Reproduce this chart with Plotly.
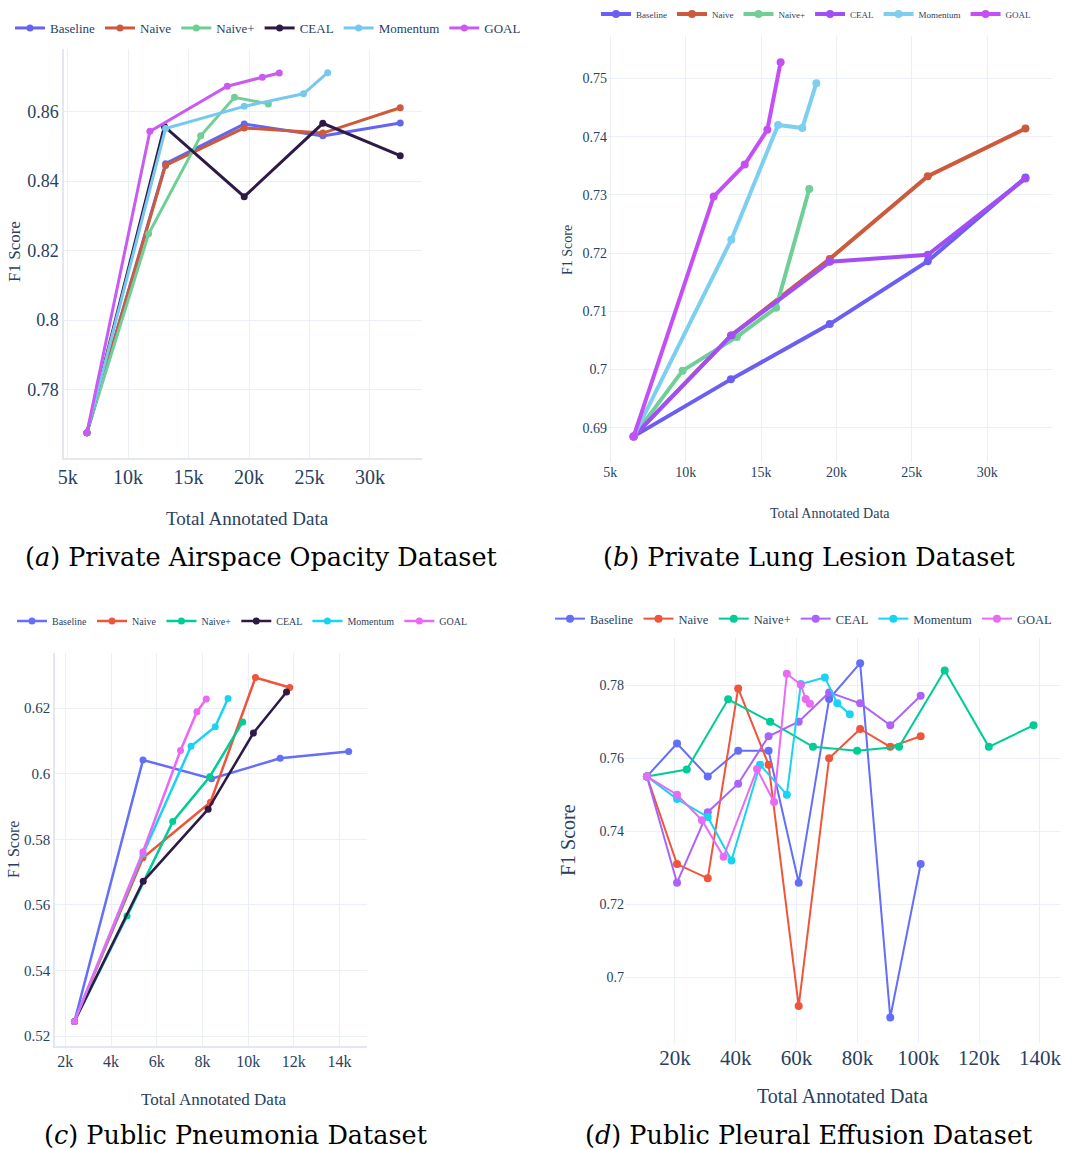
import plotly.graph_objects as go

W, H = 1065, 1149
SERIES = ["Baseline", "Naive", "Naive+", "CEAL", "Momentum", "GOAL"]

# ---------- (a) Private Airspace Opacity ----------
A_BASE_X = [6600, 13100, 19600, 26100, 32500]
A_BASE_Y = [0.7676, 0.8450, 0.8564, 0.8530, 0.8567]
A_NAIVE_X = [6600, 13100, 19600, 26100, 32500]
A_NAIVE_Y = [0.7676, 0.8445, 0.8553, 0.8538, 0.8611]
A_NAIVEP_X = [6600, 11700, 16000, 18800, 21600]
A_NAIVEP_Y = [0.7676, 0.8248, 0.8530, 0.8641, 0.8622]
A_CEAL_X = [6600, 13000, 19600, 26100, 32500]
A_CEAL_Y = [0.7676, 0.8557, 0.8355, 0.8566, 0.8473]
A_MOM_X = [6600, 13100, 19600, 24500, 26500]
A_MOM_Y = [0.7676, 0.8551, 0.8615, 0.8651, 0.8712]
A_GOAL_X = [6600, 11800, 18200, 21100, 22500]
A_GOAL_Y = [0.7676, 0.8543, 0.8673, 0.8699, 0.8711]

# ---------- (b) Private Lung Lesion ----------
B_BASE_X = [6550, 13000, 19560, 26060, 32540]
B_BASE_Y = [0.6885, 0.6983, 0.7078, 0.7186, 0.7330]
B_NAIVE_X = [6550, 13000, 19560, 26060, 32540]
B_NAIVE_Y = [0.6885, 0.7058, 0.7190, 0.7332, 0.7414]
B_NAIVEP_X = [6550, 9800, 13400, 16000, 18200]
B_NAIVEP_Y = [0.6885, 0.6998, 0.7056, 0.7106, 0.7310]
B_CEAL_X = [6550, 13050, 19560, 26060, 32540]
B_CEAL_Y = [0.6885, 0.7059, 0.7185, 0.7197, 0.7328]
B_MOM_X = [6550, 13030, 16130, 17740, 18670]
B_MOM_Y = [0.6885, 0.7223, 0.7420, 0.7415, 0.7492]
B_GOAL_X = [6550, 11860, 13920, 15420, 16300]
B_GOAL_Y = [0.6885, 0.7297, 0.7352, 0.7412, 0.7528]

# ---------- (c) Public Pneumonia ----------
C_BASE_X = [2400, 5400, 8400, 11400, 14400]
C_BASE_Y = [0.5245, 0.6042, 0.5985, 0.6047, 0.6068]
C_NAIVE_X = [2400, 5400, 8350, 10320, 11820]
C_NAIVE_Y = [0.5245, 0.5744, 0.5913, 0.6293, 0.6263]
C_NAIVEP_X = [2400, 4700, 6700, 8320, 9760]
C_NAIVEP_Y = [0.5245, 0.5566, 0.5854, 0.5991, 0.6158]
C_CEAL_X = [2400, 5410, 8250, 10230, 11680]
C_CEAL_Y = [0.5245, 0.5672, 0.5892, 0.6124, 0.6249]
C_MOM_X = [2400, 5400, 7500, 8560, 9120]
C_MOM_Y = [0.5245, 0.5755, 0.6084, 0.6143, 0.6229]
C_GOAL_X = [2400, 5400, 7040, 7760, 8170]
C_GOAL_Y = [0.5245, 0.5762, 0.6071, 0.6189, 0.6228]

# ---------- (d) Public Pleural Effusion ----------
D_BASE_X = [10800, 20700, 30800, 40800, 50800, 60700, 70700, 80900, 90800, 100800]
D_BASE_Y = [0.755, 0.764, 0.755, 0.762, 0.762, 0.7259, 0.7762, 0.786, 0.689, 0.731]
D_NAIVE_X = [10800, 20700, 30800, 40800, 50800, 60700, 70700, 80900, 90800, 100800]
D_NAIVE_Y = [0.755, 0.731, 0.7271, 0.7791, 0.7582, 0.6921, 0.760, 0.768, 0.7631, 0.766]
D_NAIVEP_X = [10800, 23900, 37500, 51300, 65400, 79900, 93700, 108700, 123200, 137900]
D_NAIVEP_Y = [0.755, 0.7569, 0.7761, 0.770, 0.7631, 0.762, 0.7631, 0.784, 0.7631, 0.769]
D_CEAL_X = [10800, 20700, 30800, 40800, 50800, 60700, 70700, 80900, 90800, 100800]
D_CEAL_Y = [0.755, 0.7259, 0.7452, 0.753, 0.766, 0.770, 0.778, 0.775, 0.769, 0.7771]
D_MOM_X = [10800, 20700, 30800, 38600, 48000, 56800, 61400, 69300, 73400, 77500]
D_MOM_Y = [0.755, 0.7488, 0.7439, 0.732, 0.7582, 0.750, 0.7803, 0.7821, 0.775, 0.772]
D_GOAL_X = [10800, 20700, 28900, 36000, 47000, 52600, 56800, 61400, 63000, 64400]
D_GOAL_Y = [0.755, 0.750, 0.743, 0.733, 0.757, 0.748, 0.7831, 0.7801, 0.7762, 0.7749]

COL_A = ["#6464f0", "#cc5a3c", "#6fcf97", "#2e1a47", "#78c8ee", "#c95bf2"]
COL_B = ["#6a5ff2", "#cc5a3c", "#6fcf97", "#a14ff5", "#7ccff0", "#c450f5"]
COL_C = ["#636efa", "#ef553b", "#00cc96", "#2e1a47", "#19d3f3", "#ea68f5"]
COL_D = ["#636efa", "#ef553b", "#00cc96", "#ab63fa", "#19d3f3", "#e86af5"]

PANELS = [
    dict(xs=[A_BASE_X, A_NAIVE_X, A_NAIVEP_X, A_CEAL_X, A_MOM_X, A_GOAL_X],
         ys=[A_BASE_Y, A_NAIVE_Y, A_NAIVEP_Y, A_CEAL_Y, A_MOM_Y, A_GOAL_Y],
         cols=COL_A, lw=3, ms=7, ax="", lg="legend"),
    dict(xs=[B_BASE_X, B_NAIVE_X, B_NAIVEP_X, B_CEAL_X, B_MOM_X, B_GOAL_X],
         ys=[B_BASE_Y, B_NAIVE_Y, B_NAIVEP_Y, B_CEAL_Y, B_MOM_Y, B_GOAL_Y],
         cols=COL_B, lw=4, ms=8, ax="2", lg="legend2"),
    dict(xs=[C_BASE_X, C_NAIVE_X, C_NAIVEP_X, C_CEAL_X, C_MOM_X, C_GOAL_X],
         ys=[C_BASE_Y, C_NAIVE_Y, C_NAIVEP_Y, C_CEAL_Y, C_MOM_Y, C_GOAL_Y],
         cols=COL_C, lw=2.5, ms=7, ax="3", lg="legend3"),
    dict(xs=[D_BASE_X, D_NAIVE_X, D_NAIVEP_X, D_CEAL_X, D_MOM_X, D_GOAL_X],
         ys=[D_BASE_Y, D_NAIVE_Y, D_NAIVEP_Y, D_CEAL_Y, D_MOM_Y, D_GOAL_Y],
         cols=COL_D, lw=2, ms=8, ax="4", lg="legend4"),
]

fig = go.Figure()
for p in PANELS:
    for name, x, y, c in zip(SERIES, p["xs"], p["ys"], p["cols"]):
        fig.add_trace(go.Scatter(
            x=x, y=y, name=name, mode="lines+markers",
            line=dict(color=c, width=p["lw"]),
            marker=dict(color=c, size=p["ms"]),
            xaxis="x" + p["ax"], yaxis="y" + p["ax"], legend=p["lg"],
        ))

SERIF = "Liberation Serif"
CAPFONT = "DejaVu Serif"
TXT = "#2a3f5f"
GRID = "#ebf0f8"

def px(v):
    return v / W

def py(v):
    return 1 - v / H

def xax(domain, rng, dtick, size, showline=False):
    return dict(domain=domain, range=rng, dtick=dtick, tick0=0, showgrid=True,
                gridcolor=GRID, gridwidth=1, zeroline=False, showline=showline,
                linecolor="#e3e8f0", linewidth=1.5, ticks="", automargin=False,
                tickfont=dict(family=SERIF, size=size, color=TXT))

def yax(domain, rng, dtick, size, anchor, showline=False):
    d = xax(domain, rng, dtick, size, showline)
    d["anchor"] = anchor
    return d

lay = dict(
    width=W, height=H, margin=dict(l=0, r=0, t=0, b=0, autoexpand=False),
    paper_bgcolor="white", plot_bgcolor="white",
    font=dict(family=SERIF, color=TXT),
    showlegend=True,
    xaxis=dict(xax([px(64), px(422)], [4700, 34300], 5000, 20, True), anchor="y"),
    yaxis=yax([py(458), py(49)], [0.7603, 0.878], 0.02, 18, "x", True),
    xaxis2=dict(xax([px(608), px(1052)], [4850, 34300], 5000, 14), anchor="y2"),
    yaxis2=yax([py(462), py(36)], [0.6841, 0.7573], 0.01, 14, "x2"),
    xaxis3=dict(xax([px(55), px(367)], [1550, 15200], 2000, 16, True), anchor="y3"),
    yaxis3=yax([py(1046), py(653)], [0.517, 0.6368], 0.02, 15, "x3", True),
    xaxis4=dict(xax([px(625), px(1060)], [3600, 146600], 20000, 21), anchor="y4"),
    yaxis4=yax([py(1043), py(638)], [0.682, 0.7929], 0.02, 14, "x4"),
)

def leg(x, y, size):
    return dict(orientation="h", x=x, y=y, xanchor="left", yanchor="middle",
                bgcolor="rgba(0,0,0,0)", font=dict(family=SERIF, size=size, color=TXT),
                itemwidth=30, tracegroupgap=0)

lay["legend"] = leg(px(10), py(28), 13)
lay["legend2"] = leg(px(596), py(14), 9)
lay["legend3"] = leg(px(12), py(621), 10)
lay["legend4"] = leg(px(550), py(619), 12.5)

annots = []
def ann(text, x, y, size, angle=0, color=TXT, family=SERIF):
    annots.append(dict(text=text, x=px(x), y=py(y), xref="paper", yref="paper",
                       showarrow=False, textangle=angle, xanchor="center", yanchor="middle",
                       font=dict(family=family, size=size, color=color)))

# axis titles
ann("Total Annotated Data", 247, 518, 19)
ann("F1 Score", 15, 252, 17, -90)
ann("Total Annotated Data", 830, 513, 14)
ann("F1 Score", 567, 250, 14, -90)
ann("Total Annotated Data", 214, 1099, 17)
ann("F1 Score", 13, 850, 16, -90)
ann("Total Annotated Data", 842, 1096, 20)
ann("F1 Score", 568, 840, 20, -90)
# captions
CAP = "black"
ann("(<i>a</i>) Private Airspace Opacity Dataset", 261, 557, 25.5, 0, CAP, CAPFONT)
ann("(<i>b</i>) Private Lung Lesion Dataset", 809, 557, 25.5, 0, CAP, CAPFONT)
ann("(<i>c</i>) Public Pneumonia Dataset", 236, 1135, 25.5, 0, CAP, CAPFONT)
ann("(<i>d</i>) Public Pleural Effusion Dataset", 809, 1135, 25.5, 0, CAP, CAPFONT)

lay["annotations"] = annots
fig.update_layout(**lay)

fig.write_html("out.html", config={"displayModeBar": False},
               post_script="document.body.style.margin='0';")
